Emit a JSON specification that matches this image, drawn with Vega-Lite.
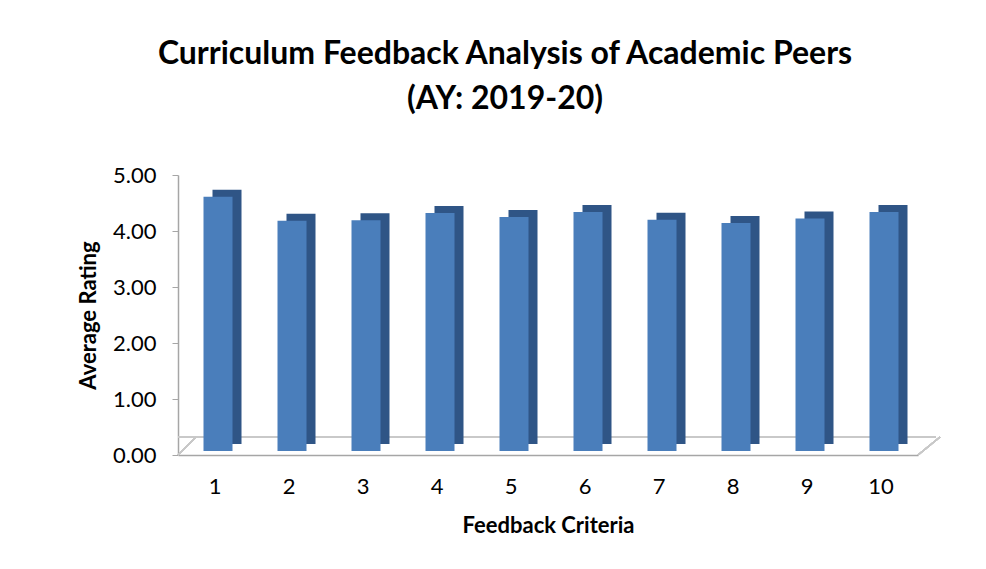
{
  "$schema": "https://vega.github.io/schema/vega-lite/v6.json",
  "width": 740,
  "height": 280,
  "autosize": {"type": "none"},
  "padding": {"left": 178, "top": 175, "right": 68, "bottom": 114},
  "background": "white",
  "config": {
    "font": "Lato",
    "view": {"stroke": null},
    "axis": {"labelFont": "Lato", "titleFont": "Lato", "labelColor": "#000", "titleColor": "#000", "grid": false}
  },
  "title": {
    "text": ["Curriculum Feedback Analysis of Academic Peers", "(AY: 2019-20)"],
    "fontSize": 32,
    "fontWeight": "bold",
    "font": "Lato",
    "color": "#000",
    "lineHeight": 45,
    "anchor": "middle",
    "dx": -43,
    "offset": 48
  },
  "data": {
    "values": [
      {"c": 1, "v": 4.54},
      {"c": 2, "v": 4.11},
      {"c": 3, "v": 4.12},
      {"c": 4, "v": 4.25},
      {"c": 5, "v": 4.18},
      {"c": 6, "v": 4.27},
      {"c": 7, "v": 4.13},
      {"c": 8, "v": 4.07},
      {"c": 9, "v": 4.15},
      {"c": 10, "v": 4.27}
    ]
  },
  "encoding": {
    "x": {
      "field": "c",
      "type": "ordinal",
      "scale": {"paddingInner": 0.6, "paddingOuter": 0.3},
      "axis": {
        "title": "Feedback Criteria",
        "titleFontSize": 22,
        "titleFontWeight": "bold",
        "titlePadding": 18,
        "labelFontSize": 22,
        "labelAngle": 0,
        "labelPadding": 21,
        "ticks": false,
        "domainColor": "#a6a6a6",
        "domainWidth": 1.5
      }
    }
  },
  "layer": [
    {
      "mark": {"type": "rule", "color": "#c8c8c8", "strokeWidth": 1.5, "yOffset": -18, "xOffset": 18},
      "encoding": {"x": null, "y": {"datum": 0, "type": "quantitative", "scale": {"domain": [0, 5]}}}
    },
    {
      "mark": {"type": "rule", "color": "#c8c8c8", "strokeWidth": 1.5, "x2Offset": 18, "y2Offset": -18},
      "encoding": {
        "x": {"datum": 1, "type": "ordinal", "bandPosition": -0.75},
        "x2": {"datum": 1, "bandPosition": -0.75},
        "y": {"datum": 0, "type": "quantitative"},
        "y2": {"datum": 0}
      }
    },
    {
      "mark": {"type": "rule", "color": "#c8c8c8", "strokeWidth": 1.5, "x2Offset": 22, "y2Offset": -18},
      "encoding": {
        "x": {"datum": 10, "type": "ordinal", "bandPosition": 1.75},
        "x2": {"datum": 10, "bandPosition": 1.75},
        "y": {"datum": 0, "type": "quantitative"},
        "y2": {"datum": 0}
      }
    },
    {
      "mark": {"type": "bar", "color": "#2f5586", "size": 29, "xOffset": 12, "yOffset": -11},
      "encoding": {
        "y": {
          "field": "v",
          "type": "quantitative",
          "scale": {"domain": [0, 5], "nice": false},
          "axis": {
            "title": "Average Rating",
            "titleFontSize": 22,
            "titleFontWeight": "bold",
            "titlePadding": 12,
            "labelFontSize": 22,
            "labelPadding": 16,
            "format": ".2f",
            "values": [0, 1, 2, 3, 4, 5],
            "tickSize": 6,
            "tickColor": "#a6a6a6",
            "domainColor": "#a6a6a6",
            "domainWidth": 1.5
          }
        }
      }
    },
    {
      "mark": {"type": "bar", "color": "#4a7ebb", "size": 29, "xOffset": 3, "yOffset": -4},
      "encoding": {"y": {"field": "v", "type": "quantitative"}}
    }
  ]
}
